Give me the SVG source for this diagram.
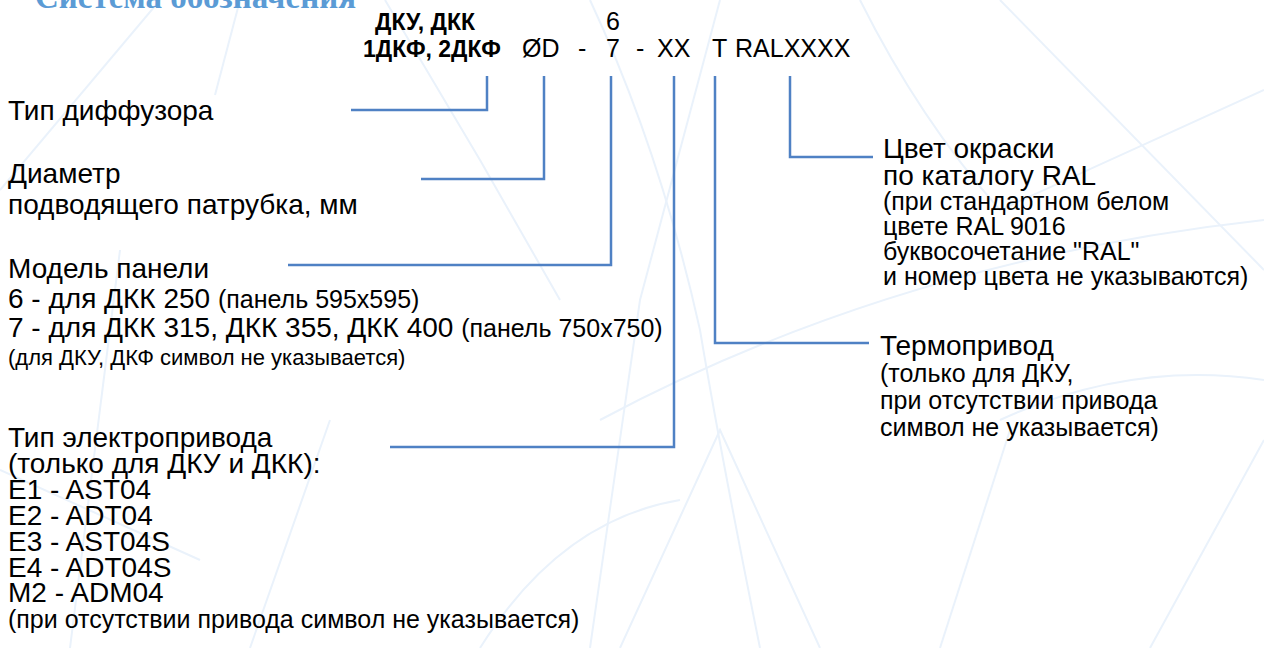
<svg xmlns="http://www.w3.org/2000/svg" width="1264" height="648" viewBox="0 0 1264 648">
<style>
.t{font-family:"Liberation Sans",Arial,sans-serif;font-size:28px;fill:#000}
.s{font-size:25px}
.n{font-size:22px}
.r{font-size:25px}
.code{font-size:25px}
.b{font-weight:bold;font-size:23px}
.title{font-family:"Liberation Serif","Times New Roman",serif;font-weight:bold;font-size:33px;fill:#5b9bd5}
.bg{fill:none;stroke:#eaf2fb;stroke-width:2}
.c{fill:none;stroke:#4f81c4;stroke-width:2.5}
</style>
<rect width="1264" height="648" fill="#fff"/>
<g id="background">
<path class="bg" d="M0 190 L160 0"/>
<path class="bg" d="M240 0 L215 95"/>
<path class="bg" d="M385 0 L480 160 L560 300"/>
<path class="bg" d="M590 0 Q660 150 700 330 Q720 450 760 648"/>
<path class="bg" d="M720 0 L640 300 L590 648"/>
<path class="bg" d="M860 0 Q920 120 1000 210 L1264 90"/>
<path class="bg" d="M600 420 Q900 260 1264 220"/>
<path class="bg" d="M1000 0 L1264 270"/>
<path class="bg" d="M1150 648 L1264 440"/>
<path class="bg" d="M1000 420 Q1130 360 1264 380"/>
<path class="bg" d="M620 648 L720 430 L820 648"/>
<path class="bg" d="M480 648 Q560 520 680 500"/>
<path class="bg" d="M0 470 L200 560"/>
<path class="bg" d="M250 648 L330 420"/>
<path class="bg" d="M120 250 L70 648"/>
<path class="bg" d="M940 648 L1010 430"/>
</g>
<g id="title"><text class="title" x="35" y="8">Система обозначения</text></g>
<g id="code">
<text class="t b" x="375" y="30">ДКУ, ДКК</text>
<text class="t b" x="363" y="57">1ДКФ, 2ДКФ</text>
<text class="t code" x="606" y="30">6</text>
<text class="t code" x="522" y="57">ØD</text>
<text class="t code" x="578" y="57">-</text>
<text class="t code" x="606" y="57">7</text>
<text class="t code" x="636" y="57">-</text>
<text class="t code" x="657" y="57">XX</text>
<text class="t code" x="712" y="57">T</text>
<text class="t code" x="735" y="57">RALXXXX</text>
</g>
<g id="connectors">
<path class="c" d="M351 110 H487 V76"/>
<path class="c" d="M421 179 H544 V76"/>
<path class="c" d="M288 265 H611 V76"/>
<path class="c" d="M390 447 H674 V76"/>
<path class="c" d="M869 343 H715 V76"/>
<path class="c" d="M873 157 H790 V76"/>
</g>
<g id="type">
<text class="t" x="8" y="120">Тип диффузора</text>
</g>
<g id="diameter">
<text class="t" x="8" y="183">Диаметр</text>
<text class="t" x="8" y="214">подводящего патрубка, мм</text>
</g>
<g id="model">
<text class="t" x="8" y="278">Модель панели</text>
<text class="t" x="8" y="308">6 - для ДКК 250 <tspan class="s">(панель 595x595)</tspan></text>
<text class="t" x="8" y="337">7 - для ДКК 315, ДКК 355, ДКК 400 <tspan class="s">(панель 750x750)</tspan></text>
<text class="t n" x="8" y="365">(для ДКУ, ДКФ символ не указывается)</text>
</g>
<g id="drive">
<text class="t" x="8" y="447">Тип электропривода</text>
<text class="t" x="8" y="473">(только для ДКУ и ДКК):</text>
<text class="t" x="8" y="499">E1 - AST04</text>
<text class="t" x="8" y="525">E2 - ADT04</text>
<text class="t" x="8" y="551">E3 - AST04S</text>
<text class="t" x="8" y="577">E4 - ADT04S</text>
<text class="t" x="8" y="602">M2 - ADM04</text>
<text class="t s" x="8" y="628">(при отсутствии привода символ не указывается)</text>
</g>
<g id="thermo">
<text class="t" x="880" y="355">Термопривод</text>
<text class="t r" x="880" y="382">(только для ДКУ,</text>
<text class="t r" x="880" y="409">при отсутствии привода</text>
<text class="t r" x="880" y="436">символ не указывается)</text>
</g>
<g id="color">
<text class="t" x="883" y="158">Цвет окраски</text>
<text class="t" x="883" y="185">по каталогу RAL</text>
<text class="t r" x="883" y="210">(при стандартном белом</text>
<text class="t r" x="883" y="235">цвете RAL 9016</text>
<text class="t r" x="883" y="260">буквосочетание "RAL"</text>
<text class="t r" x="883" y="285">и номер цвета не указываются)</text>
</g>
</svg>
